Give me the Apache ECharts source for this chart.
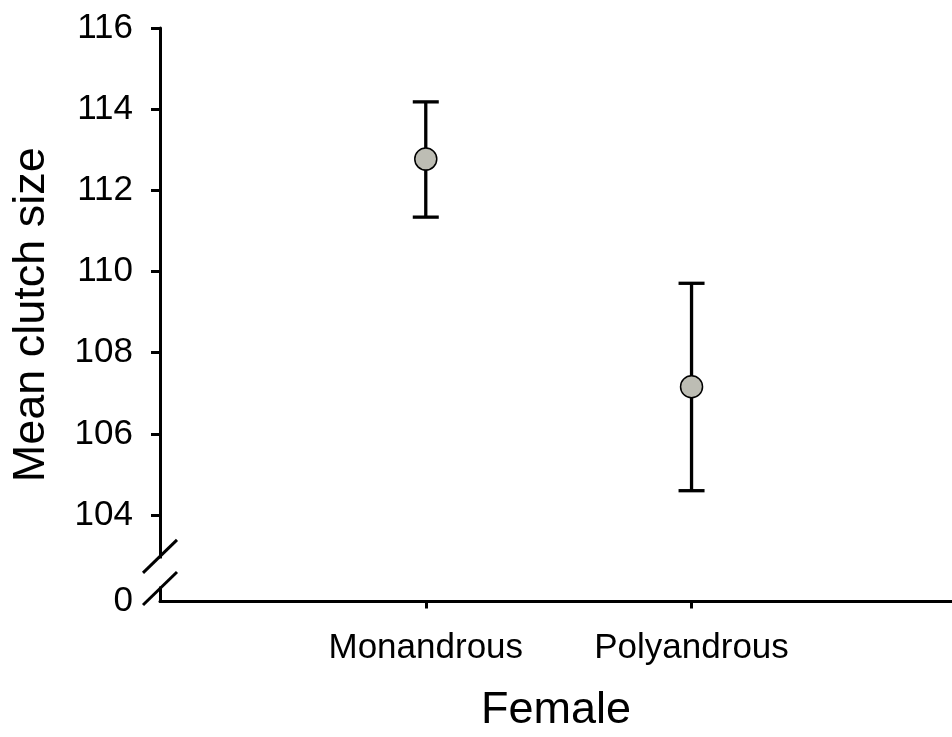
<!DOCTYPE html>
<html>
<head>
<meta charset="utf-8">
<script src="https://cdn.jsdelivr.net/npm/echarts@6/dist/echarts.min.js"></script>
<style>
html,body{margin:0;padding:0;background:#fff;}
#chart{width:952px;height:737px;}
</style>
</head>
<body>
<div id="chart"></div>
<script>
// ---- data ----
var categories = ['Monandrous', 'Polyandrous'];
var categoryX = [1, 2];
var meanValues = [112.77, 107.16];
var upperValues = [114.18, 109.71];
var lowerValues = [111.34, 104.60];
var yTickValues = [104, 106, 108, 110, 112, 114, 116];
var yZeroValue = 101.87;   // where the "0" of the broken axis sits
var yZeroLabel = '0';
var xAxisTitle = 'Female';
var yAxisTitle = 'Mean clutch size';

var FONT = '"Liberation Sans", Arial, sans-serif';

var errData = categories.map(function (c, i) { return [categoryX[i], lowerValues[i], upperValues[i]]; });
var ptData = categories.map(function (c, i) { return [categoryX[i], meanValues[i]]; });

var chart = echarts.init(document.getElementById('chart'), null, {renderer: 'canvas'});

var option = {
  backgroundColor: '#ffffff',
  animation: false,
  grid: {left: 160, right: 0, top: 28, bottom: 135.5, containLabel: false, outerBoundsMode: 'none'},
  xAxis: {
    type: 'value', min: 0, max: 2.98,
    name: xAxisTitle, nameLocation: 'middle', nameGap: 87,
    nameTextStyle: {fontFamily: FONT, fontSize: 45, color: '#000'},
    splitLine: {show: false},
    axisLine: {show: true, lineStyle: {color: '#000', width: 3}},
    axisTick: {show: true, customValues: categoryX, length: 7, inside: false, lineStyle: {color: '#000', width: 3}},
    axisLabel: {
      customValues: categoryX, margin: 29,
      fontFamily: FONT, fontSize: 35, color: '#000',
      formatter: function (v) { var i = categoryX.indexOf(v); return i >= 0 ? categories[i] : ''; }
    }
  },
  yAxis: {
    type: 'value', min: yZeroValue, max: 116,
    name: yAxisTitle, nameLocation: 'middle', nameGap: 106,
    nameTextStyle: {fontFamily: FONT, fontSize: 45, color: '#000'},
    splitLine: {show: false},
    axisLine: {show: true, lineStyle: {color: '#000', width: 3}},
    axisTick: {show: true, customValues: yTickValues, length: 9, inside: false, lineStyle: {color: '#000', width: 3}},
    axisLabel: {
      customValues: [yZeroValue].concat(yTickValues), margin: 27,
      fontFamily: FONT, fontSize: 35, color: '#000',
      formatter: function (v) { return v < 103 ? yZeroLabel : String(v); }
    }
  },
  series: [
    {
      type: 'custom',
      data: errData,
      encode: {x: 0, y: [1, 2]},
      z: 2,
      renderItem: function (params, api) {
        var x = api.value(0);
        var lo = api.coord([x, api.value(1)]);
        var hi = api.coord([x, api.value(2)]);
        var hw = 13;
        var st = {stroke: '#000', lineWidth: 3.3};
        return {
          type: 'group',
          children: [
            {type: 'line', shape: {x1: hi[0], y1: hi[1], x2: lo[0], y2: lo[1]}, style: st},
            {type: 'line', shape: {x1: hi[0] - hw, y1: hi[1], x2: hi[0] + hw, y2: hi[1]}, style: st},
            {type: 'line', shape: {x1: lo[0] - hw, y1: lo[1], x2: lo[0] + hw, y2: lo[1]}, style: st}
          ]
        };
      }
    },
    {
      type: 'scatter',
      data: ptData,
      z: 3,
      symbol: 'circle',
      symbolSize: 22,
      itemStyle: {color: '#bdbdb4', borderColor: '#000', borderWidth: 1.5, opacity: 1}
    }
  ]
};
chart.setOption(option);

// axis break decoration (two slashes, gap in axis line)
var pUp = chart.convertToPixel({gridIndex: 0}, [0, 102.98]);
var pLo = chart.convertToPixel({gridIndex: 0}, [0, 102.19]);
function slash(p) {
  return {type: 'line', z: 100, shape: {x1: p[0] - 17, y1: p[1] + 16.5, x2: p[0] + 17, y2: p[1] - 16.5},
    style: {stroke: '#000', lineWidth: 3}};
}
chart.setOption({
  graphic: [
    {type: 'rect', z: 99, shape: {x: pUp[0] - 5, y: pUp[1] + 2, width: 10, height: (pLo[1] - pUp[1]) - 4},
      style: {fill: '#fff'}},
    slash(pUp),
    slash(pLo)
  ]
});
</script>
</body>
</html>
